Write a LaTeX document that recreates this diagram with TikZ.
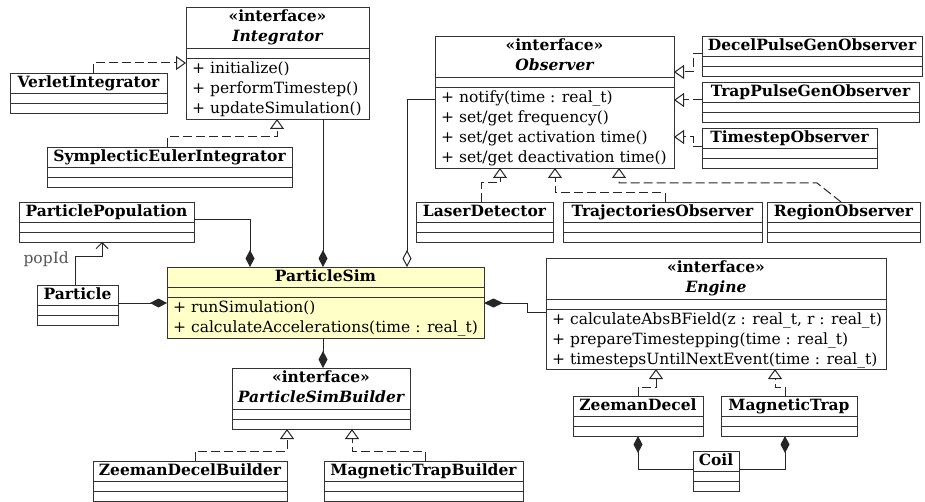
\documentclass[tikz,border=0pt]{standalone}
\usepackage{fontspec}
\setmainfont{DejaVu Serif}
\usetikzlibrary{arrows.meta}
\newcommand\fs{\fontsize{15.5}{18}\selectfont}
\definecolor{simfill}{RGB}{255,255,200}
\definecolor{lblgray}{RGB}{85,85,85}
\tikzset{
  cline/.style={draw=black!80, line width=0.9pt},
  cbox/.style={cline, inner sep=0pt, outer sep=0pt, fill=white},
  ctitle/.style={font=\fs\bfseries, inner sep=0pt, text height=12pt, text depth=3.5pt},
  ctitleit/.style={font=\fs\bfseries\itshape, inner sep=0pt, text height=12pt, text depth=3.5pt},
  cmeth/.style={font=\fs, anchor=west, inner sep=0pt, text height=12pt, text depth=3.5pt},
  conn/.style={draw=black!85, line width=1pt},
  real/.style={conn, dash pattern=on 9pt off 4pt, -{Triangle[open, length=10pt, width=14pt, fill=white]}},
  comp/.style={conn, -{Diamond[length=17pt, width=9pt]}},
  compstart/.style={conn, {Diamond[length=19pt, width=9pt]}-},
  aggr/.style={conn, -{Diamond[open, length=17pt, width=9pt, fill=white]}},
  nav/.style={conn, -{Straight Barb[length=6pt, width=12pt]}},
  lbl/.style={font=\fs, text=lblgray, inner sep=0pt, text height=12pt, text depth=3.5pt},
}
\newcommand\simplecls[5]{%
  \node[cbox, minimum width=#4pt, minimum height=40pt, anchor=north west] (#1) at (#2,#3) {};
  \node[ctitle] (#1-t) at ([yshift=-10pt]#1.north) {#5};
  \draw[cline] ([yshift=-20pt]#1.north west) -- ([yshift=-20pt]#1.north east);
  \draw[cline] ([yshift=-30pt]#1.north west) -- ([yshift=-30pt]#1.north east);
}
\newcommand\ifacecls[6]{%
  \node[cbox, minimum width=#4pt, minimum height=#5pt, anchor=north west] (#1) at (#2,#3) {};
  \node[ctitle] (#1-s) at ([yshift=-10.5pt]#1.north) {«interface»};
  \node[ctitleit] (#1-t) at ([yshift=-30.5pt]#1.north) {#6};
  \draw[cline] ([yshift=-41pt]#1.north west) -- ([yshift=-41pt]#1.north east);
  \draw[cline] ([yshift=-51pt]#1.north west) -- ([yshift=-51pt]#1.north east);
}
\newcommand\meth[4]{%
  \node[cmeth] (#2) at ([xshift=6pt, yshift=-#3pt]#1.north west) {#4};
}
\begin{document}
\begin{tikzpicture}[x=1pt, y=-1pt]
\useasboundingbox (0,0) rectangle (925,502);

% ---------- Integrator group ----------
\ifacecls{integrator}{186}{7}{183}{112}{Integrator}
\meth{integrator}{integrator-m1}{62}{+ initialize()}
\meth{integrator}{integrator-m2}{82}{+ performTimestep()}
\meth{integrator}{integrator-m3}{102}{+ updateSimulation()}
\simplecls{verlet}{10}{73}{157}{VerletIntegrator}
\simplecls{symplectic}{47}{147}{245}{SymplecticEulerIntegrator}

% ---------- Observer group ----------
\ifacecls{observer}{435}{36}{239}{132}{Observer}
\meth{observer}{observer-m1}{62}{+ notify(time : real\_t)}
\meth{observer}{observer-m2}{82}{+ set/get frequency()}
\meth{observer}{observer-m3}{102}{+ set/get activation time()}
\meth{observer}{observer-m4}{122}{+ set/get deactivation time()}
\simplecls{decel}{702}{36}{220}{DecelPulseGenObserver}
\simplecls{trap}{702}{82}{217}{TrapPulseGenObserver}
\simplecls{timestep}{702}{128}{175}{TimestepObserver}
\simplecls{laser}{416}{202}{137}{LaserDetector}
\simplecls{traj}{563}{202}{199}{TrajectoriesObserver}
\simplecls{region}{767}{202}{153}{RegionObserver}

% ---------- ParticleSim ----------
\node[cbox, fill=simfill, minimum width=317pt, minimum height=71pt, anchor=north west] (psim) at (167,267) {};
\node[ctitle] (psim-t) at ([yshift=-10pt]psim.north) {ParticleSim};
\draw[cline] ([yshift=-20pt]psim.north west) -- ([yshift=-20pt]psim.north east);
\draw[cline] ([yshift=-30pt]psim.north west) -- ([yshift=-30pt]psim.north east);
\meth{psim}{psim-m1}{41}{+ runSimulation()}
\meth{psim}{psim-m2}{61}{+ calculateAccelerations(time : real\_t)}

\simplecls{ppop}{19}{202}{175}{ParticlePopulation}
\simplecls{particle}{37}{285}{81}{Particle}

% ---------- Engine group ----------
\ifacecls{engine}{546}{258}{340}{111}{Engine}
\meth{engine}{engine-m1}{62}{+ calculateAbsBField(z : real\_t, r : real\_t)}
\meth{engine}{engine-m2}{82}{+ prepareTimestepping(time : real\_t)}
\meth{engine}{engine-m3}{102}{+ timestepsUntilNextEvent(time : real\_t)}
\simplecls{zdecel}{573}{396}{130}{ZeemanDecel}
\simplecls{mtrap}{721}{396}{136}{MagneticTrap}
\simplecls{coil}{693}{451}{46}{Coil}

% ---------- Builder group ----------
\ifacecls{builder}{232}{368}{178}{61}{ParticleSimBuilder}
\simplecls{zdb}{93}{461}{194}{ZeemanDecelBuilder}
\simplecls{mtb}{324}{461}{199}{MagneticTrapBuilder}

% ---------- connectors ----------
\draw[real] (verlet.north -| 93,0) |- (integrator.west |- 0,63);
\draw[real] (symplectic.north -| 167,0) -- ++(0,-10) -| (integrator.south -| 277,0);
\draw[comp] (integrator.south -| 323,0) -- (psim.north -| 323,0);

\draw[aggr] (observer.west |- 0,100) -| (psim.north -| 407,0);
\draw[real] (decel.west |- 0,54) -- ++(-9,0) |- (observer.east |- 0,72);
\draw[real] (trap.west |- 0,100) -- (observer.east |- 0,100);
\draw[real] (timestep.west |- 0,147) -- ++(-9,0) |- (observer.east |- 0,137);
\draw[real] (laser.north -| 481,0) -- ++(0,-19) -| (observer.south -| 500,0);
\draw[real] (traj.north -| 665,0) -- ++(0,-9) -| (observer.south -| 555,0);
\draw[real] (region.north -| 841,0) -- ++(-24,-19) -| (observer.south -| 619,0);

\draw[comp] (ppop.east |- 0,220) -| (psim.north -| 250,0);
\draw[nav] (particle.north -| 75,0) -- ++(0,-28) -| (ppop.south -| 102,0);
\node[lbl, anchor=east] (popid) at (69,259) {popId};
\draw[comp] (particle.east |- 0,303) -- (psim.west |- 0,303);

\draw[compstart] (psim.east |- 0,303) -- ++(43,0) |- (engine.west |- 0,312);
\draw[real] (zdecel.north -| 638,0) -- ++(0,-9) -| (engine.south -| 656,0);
\draw[real] (mtrap.north -| 785,0) -- ++(0,-9) -| (engine.south -| 775,0);
\draw[comp] (coil.west |- 0,469) -| (zdecel.south -| 638,0);
\draw[comp] (coil.east |- 0,469) -| (mtrap.south -| 785,0);

\draw[comp] (psim.south -| 323,0) -- (builder.north -| 323,0);
\draw[real] (zdb.north -| 195,0) -- ++(0,-10) -| (builder.south -| 287,0);
\draw[real] (mtb.north -| 425,0) -- ++(0,-10) -| (builder.south -| 352,0);
\end{tikzpicture}
\end{document}
